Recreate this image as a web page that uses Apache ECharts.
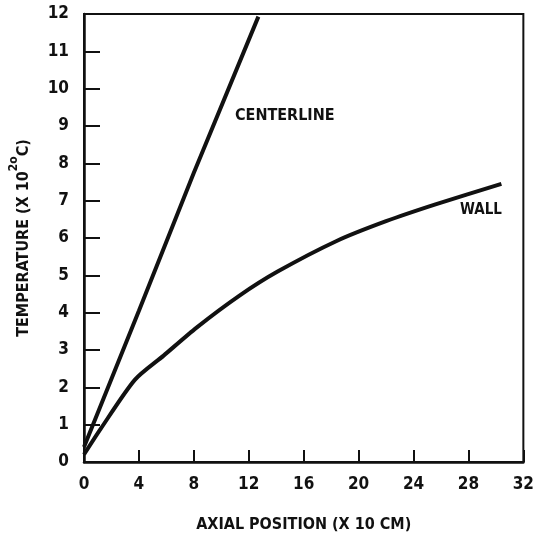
<!DOCTYPE html>
<html>
<head>
<meta charset="utf-8">
<script src="https://cdn.jsdelivr.net/npm/echarts@6/dist/echarts.min.js"></script>
<style>
html,body{margin:0;padding:0;background:#fff;}
#chart{width:537px;height:538px;}
</style>
</head>
<body>
<div id="chart"></div>
<script>
// Data
const xTicks = [0, 4, 8, 12, 16, 20, 24, 28, 32];
const yTicks = [0, 1, 2, 3, 4, 5, 6, 7, 8, 9, 10, 11, 12];
const centerlineX = [0, 4, 8, 12.7];
const centerlineY = [0.4, 4.05, 7.75, 11.93];
const wallX = [0, 1.2, 3.7, 5.8, 8.2, 11.3, 14.1, 18.4, 22, 25.6, 30.4];
const wallY = [0.2, 0.88, 2.2, 2.85, 3.6, 4.45, 5.1, 5.92, 6.45, 6.9, 7.45];
const seriesNames = ['CENTERLINE', 'WALL'];
const xTitle = 'AXIAL POSITION (X 10 CM)';

const FONT = "'Liberation Sans Narrow', 'DejaVu Sans Condensed', 'Arial Narrow', sans-serif";
const INK = '#111';

const chart = echarts.init(document.getElementById('chart'), null, {renderer: 'canvas'});

const zip = (xs, ys) => xs.map((x, i) => [x, ys[i]]);

chart.setOption({
  animation: false,
  backgroundColor: '#fff',
  grid: {
    left: 83, right: 8, top: 14, bottom: 76,
    show: true, borderColor: INK, borderWidth: 2, backgroundColor: 'transparent'
  },
  xAxis: {
    type: 'value', min: xTicks[0], max: xTicks[xTicks.length - 1], interval: 4,
    name: xTitle, nameLocation: 'middle', nameGap: 55,
    nameTextStyle: {fontFamily: FONT, fontWeight: 'bold', fontSize: 16, color: INK},
    axisLine: {show: true, lineStyle: {color: INK, width: 2.5}},
    axisTick: {show: true, inside: true, length: 12, lineStyle: {color: INK, width: 2}},
    axisLabel: {fontFamily: FONT, fontWeight: 'bold', fontSize: 17, color: INK, margin: 14},
    splitLine: {show: false}
  },
  yAxis: {
    type: 'value', min: yTicks[0], max: yTicks[yTicks.length - 1], interval: 1,
    name: '{a|TEMPERATURE (X 10}{s|2o}{a|C)}', nameLocation: 'middle', nameGap: 52, nameRotate: 90,
    nameTextStyle: {
      rich: {
        a: {fontFamily: FONT, fontWeight: 'bold', fontSize: 16, color: INK, lineHeight: 24, verticalAlign: 'bottom'},
        s: {fontFamily: FONT, fontWeight: 'bold', fontSize: 12, color: INK, lineHeight: 24, verticalAlign: 'top'}
      }
    },
    axisLine: {show: true, lineStyle: {color: INK, width: 2.5}},
    axisTick: {show: true, inside: true, length: 16, lineStyle: {color: INK, width: 2}},
    axisLabel: {fontFamily: FONT, fontWeight: 'bold', fontSize: 17, color: INK, margin: 15},
    splitLine: {show: false}
  },
  series: [
    {
      name: seriesNames[0], type: 'line', data: zip(centerlineX, centerlineY),
      showSymbol: false, symbol: 'none', smooth: false,
      lineStyle: {color: INK, width: 4}
    },
    {
      name: seriesNames[1], type: 'line', data: zip(wallX, wallY),
      showSymbol: false, symbol: 'none', smooth: 0.25,
      lineStyle: {color: INK, width: 4}
    }
  ],
  graphic: [
    {type: 'text', left: 235, top: 108, style: {text: seriesNames[0], font: 'bold 16px ' + FONT, fill: INK}},
    {type: 'text', left: 460, top: 203, style: {text: seriesNames[1], font: 'bold 15px ' + FONT, fill: INK}}
  ]
});
</script>
</body>
</html>
